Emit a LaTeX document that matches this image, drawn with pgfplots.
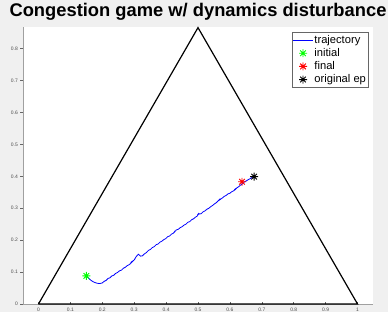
\documentclass[border=0pt]{standalone}
\usepackage{pgfplots}
\pgfplotsset{compat=1.18}
\usepackage{fontspec}
\setmainfont{Liberation Sans}
\definecolor{figbg}{HTML}{F0F0F0}
\definecolor{axgray}{HTML}{A0A0A0}
\pgfdeclareplotmark{mstar}{%
 \pgfpathmoveto{\pgfqpoint{0pt}{\pgfplotmarksize}}\pgfpathlineto{\pgfqpoint{0pt}{-\pgfplotmarksize}}%
 \pgfpathmoveto{\pgfqpoint{\pgfplotmarksize}{0pt}}\pgfpathlineto{\pgfqpoint{-\pgfplotmarksize}{0pt}}%
 \pgfpathmoveto{\pgfqpoint{.707\pgfplotmarksize}{.707\pgfplotmarksize}}\pgfpathlineto{\pgfqpoint{-.707\pgfplotmarksize}{-.707\pgfplotmarksize}}%
 \pgfpathmoveto{\pgfqpoint{-.707\pgfplotmarksize}{.707\pgfplotmarksize}}\pgfpathlineto{\pgfqpoint{.707\pgfplotmarksize}{-.707\pgfplotmarksize}}%
 \pgfusepathqstroke}
\pgfplotsset{
  lineleg/.style={legend image code/.code={\draw[blue, line width=0.9bp] (0bp,0bp) -- (20bp,0bp);}},
  markleg/.style={legend image code/.code={\draw[##1] plot coordinates {(10bp,0bp)};}},
}
\begin{document}
\begin{tikzpicture}
\path[use as bounding box, fill=figbg] (0,0) rectangle (388bp,312bp);
\begin{axis}[
  at={(23bp,8bp)}, anchor=south west,
  scale only axis, width=350bp, height=277bp,
  xmin=-0.0485, xmax=1.0485, ymin=0, ymax=0.868,
  axis background/.style={fill=white},
  axis x line*=bottom, axis y line*=left,
  axis line style={draw=axgray, line width=0.6bp, -},
  xtick={0,0.1,...,1.01}, ytick={0,0.1,...,0.81},
  xticklabels={0,0.1,0.2,0.3,0.4,0.5,0.6,0.7,0.8,0.9,1},
  yticklabels={0,0.1,0.2,0.3,0.4,0.5,0.6,0.7,0.8},
  tick style={draw=black!60, line width=0.5bp},
  major tick length=2.5bp,
  xtick align=inside, ytick align=outside,
  tick label style={font=\fontsize{5}{6}\selectfont, text=black!70},
  xticklabel style={anchor=north, inner sep=0pt, yshift=-4bp},
  yticklabel style={anchor=east, inner sep=0pt, xshift=-2.5bp},
  title={Congestion game w/ dynamics disturbance},
  title style={font=\fontsize{18.4}{20}\selectfont\bfseries, at={(0.5,1)}, anchor=base, yshift=4.5bp, inner sep=0pt},
  clip=false,
  legend style={at={(1,1)}, anchor=north east, xshift=-5bp, yshift=-5bp,
    draw=black!60, line width=0.5bp, fill=white, font=\fontsize{11.2}{13}\selectfont,
    inner xsep=0.8bp, inner ysep=2.5bp, row sep=2.6bp,
    nodes={inner xsep=1bp, inner ysep=0.5bp},
    /tikz/every even column/.append style={column sep=0bp}},
  legend cell align=left,
]
\addplot[black, line width=1.2bp, forget plot] coordinates {(0,0) (0.5,0.8660) (1,0) (0,0)};
\addplot[blue, line width=0.8bp, lineleg] coordinates {
(0.150,0.088) (0.158,0.080) (0.166,0.073) (0.175,0.068) (0.184,0.065) (0.192,0.064)
(0.200,0.066) (0.206,0.071) (0.212,0.074) (0.218,0.080) (0.224,0.082) (0.230,0.088)
(0.236,0.090) (0.242,0.096) (0.248,0.099) (0.254,0.104) (0.260,0.106) (0.266,0.112)
(0.272,0.115) (0.278,0.120) (0.284,0.123) (0.290,0.128) (0.296,0.134) (0.289,0.130)
(0.300,0.138) (0.306,0.148) (0.313,0.156) (0.320,0.150) (0.326,0.151) (0.332,0.157)
(0.338,0.161) (0.345,0.168) (0.351,0.171) (0.357,0.177) (0.363,0.180) (0.369,0.186)
(0.375,0.188) (0.381,0.194) (0.387,0.197) (0.393,0.202) (0.399,0.205) (0.405,0.211)
(0.411,0.213) (0.417,0.219) (0.423,0.222) (0.428,0.229) (0.425,0.224) (0.432,0.232)
(0.438,0.234) (0.444,0.239) (0.450,0.242) (0.456,0.247) (0.462,0.250) (0.468,0.256)
(0.474,0.258) (0.480,0.264) (0.486,0.267) (0.492,0.272) (0.498,0.276) (0.503,0.285)
(0.500,0.281) (0.510,0.283) (0.516,0.289) (0.522,0.292) (0.528,0.297) (0.534,0.300)
(0.540,0.305) (0.546,0.309) (0.552,0.314) (0.558,0.318) (0.564,0.324) (0.570,0.330)
(0.566,0.325) (0.576,0.332) (0.582,0.337) (0.588,0.340) (0.594,0.345) (0.600,0.347)
(0.606,0.352) (0.612,0.355) (0.618,0.362) (0.614,0.356) (0.622,0.364) (0.628,0.368)
(0.634,0.373) (0.640,0.377) (0.646,0.383) (0.652,0.386) (0.658,0.390) (0.664,0.393)
(0.670,0.397) (0.676,0.400)};
\addlegendentry{trajectory}
\addplot[only marks, mark=mstar, mark size=4bp, line width=0.9bp, color=green, markleg] coordinates {(0.150,0.088)};
\addlegendentry{initial}
\addplot[only marks, mark=mstar, mark size=4bp, line width=0.9bp, color=red, markleg] coordinates {(0.638,0.383)};
\addlegendentry{final}
\addplot[only marks, mark=mstar, mark size=4bp, line width=0.9bp, color=black, markleg] coordinates {(0.676,0.399)};
\addlegendentry{original ep}
\end{axis}
\end{tikzpicture}
\end{document}
